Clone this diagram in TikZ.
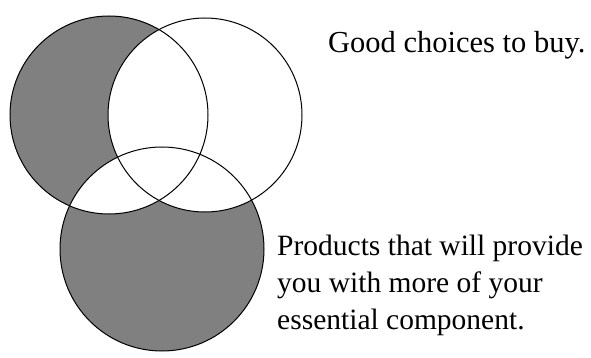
\documentclass[tikz,border=0pt]{standalone}
\usepackage{fontspec}
\setmainfont{Liberation Serif}
\definecolor{vgray}{RGB}{128,128,128}
\begin{document}
\begin{tikzpicture}[x=1pt,y=-1pt,
  circ/.style={draw=black,line width=1pt},
  lbl/.style={anchor=base west,inner sep=0pt,font=\fontsize{29.5}{37}\selectfont,align=left}]
\useasboundingbox (0,0) rectangle (591,358);
\coordinate (ca) at (109,115);
\coordinate (cb) at (205,115);
\coordinate (cc) at (162,249);
\fill[vgray] (ca) circle[radius=99];
\fill[vgray] (cc) circle[radius=102];
\begin{scope}
  \clip (ca) circle[radius=99];
  \fill[white] (cc) circle[radius=102];
\end{scope}
\fill[white] (cb) circle[radius=97];
\node[circ,circle,minimum size=198pt,inner sep=0pt] (A) at (ca) {};
\node[circ,circle,minimum size=194pt,inner sep=0pt] (B) at (cb) {};
\node[circ,circle,minimum size=204pt,inner sep=0pt] (C) at (cc) {};
\node[lbl,font=\fontsize{30.5}{37}\selectfont] (t1) at (328,53) {Good choices to buy.};
\node[lbl] (t2) at (277,255) {Products that will provide};
\node[lbl] (t3) at (277,292) {you with more of your};
\node[lbl] (t4) at (277,329) {essential component.};
\end{tikzpicture}
\end{document}
